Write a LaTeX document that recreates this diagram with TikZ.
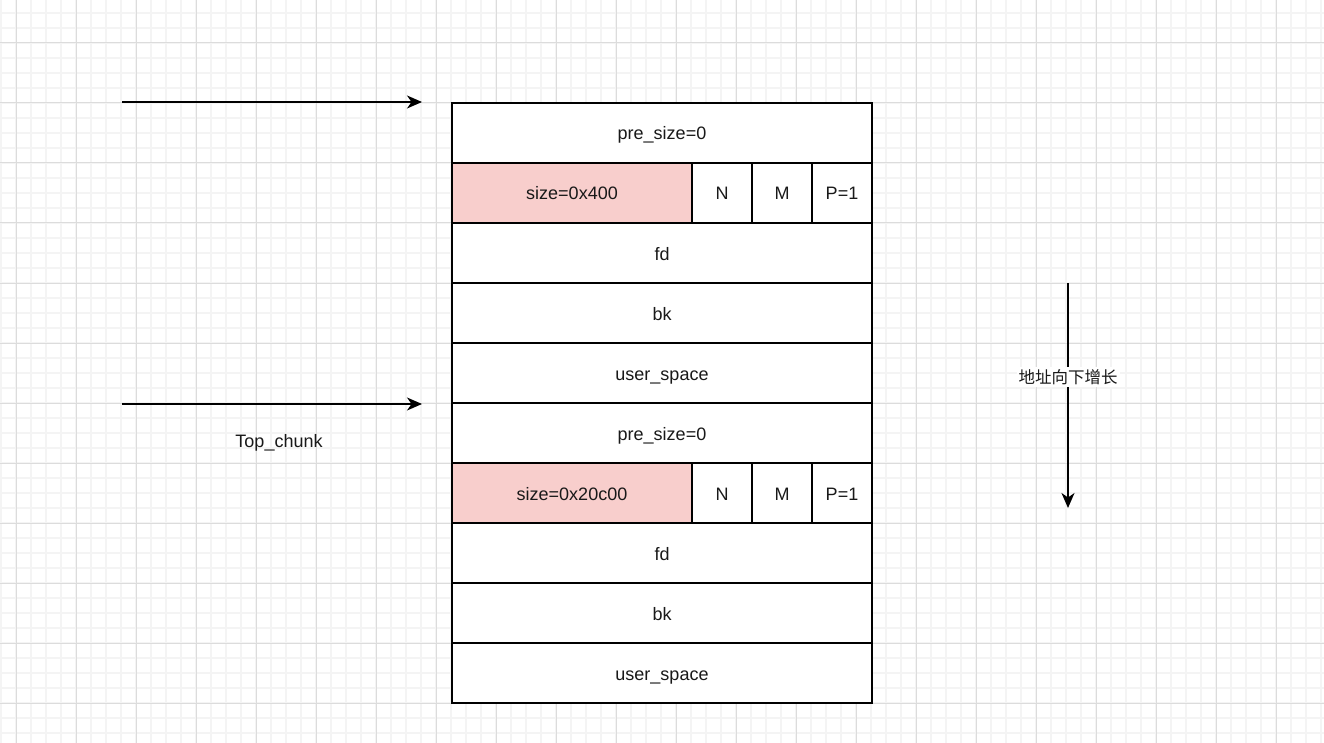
\documentclass[tikz,border=0pt]{standalone}
\usepackage{fontspec}
\setmainfont{Liberation Sans}
\newfontfamily\cjk{Noto Sans CJK SC}
\usetikzlibrary{arrows.meta}
\definecolor{pinkfill}{HTML}{F8CECC}
\definecolor{minorgrid}{HTML}{F4F4F4}
\definecolor{majorgrid}{HTML}{DCDCDC}
\tikzset{
  cell/.style={draw=black, line width=1.4pt, fill=white, minimum height=60pt, inner sep=0pt, font=\fontsize{18}{21}\selectfont, text=black!90, text height=14pt, text depth=0pt},
  wide/.style={cell, minimum width=420pt},
  sizecell/.style={cell, fill=pinkfill, minimum width=240pt},
  bitcell/.style={cell, minimum width=60pt},
  ptr/.style={line width=1.5pt, -{Stealth[length=15pt,width=13pt,inset=4.5pt]}},
  lbl/.style={font=\fontsize{18}{21}\selectfont, text=black!90, inner sep=1pt},
}
\begin{document}
\begin{tikzpicture}[x=1pt,y=-1pt]
\useasboundingbox (0,0) rectangle (1324,743);
\fill[white] (0,0) rectangle (1324,743);
% minor grid
\foreach \x in {1,16,...,1324} \draw[minorgrid, line width=1.2pt] (\x,0) -- (\x,743);
\foreach \y in {13,28,...,743} \draw[minorgrid, line width=1.2pt] (0,\y) -- (1324,\y);
% major grid
\foreach \x in {16,76,...,1324} \draw[majorgrid, line width=1pt] (\x,0) -- (\x,743);
\foreach \y in {43,103,...,743} \draw[majorgrid, line width=1pt] (0,\y) -- (1324,\y);
% chunk 1
\node[wide] (pre1) at (662,133) {pre\_size=0};
\node[sizecell] (size1) at (572,193) {size=0x400};
\node[bitcell] (n1) at (722,193) {N};
\node[bitcell] (m1) at (782,193) {M};
\node[bitcell] (p1) at (842,193) {P=1};
\node[wide] (fd1) at (662,253) {fd};
\node[wide] (bk1) at (662,313) {bk};
\node[wide] (us1) at (662,373) {user\_space};
% chunk 2
\node[wide] (pre2) at (662,433) {pre\_size=0};
\node[sizecell] (size2) at (572,493) {size=0x20c00};
\node[bitcell] (n2) at (722,493) {N};
\node[bitcell] (m2) at (782,493) {M};
\node[bitcell] (p2) at (842,493) {P=1};
\node[wide] (fd2) at (662,553) {fd};
\node[wide] (bk2) at (662,613) {bk};
\node[wide] (us2) at (662,673) {user\_space};
% pointers
\coordinate (a1s) at (122,102);
\coordinate (a1e) at (422,102);
\coordinate (a2s) at (122,404);
\coordinate (a2e) at (422,404);
\draw[ptr] (a1s) -- (a1e);
\draw[ptr] (a2s) -- (a2e);
\node[lbl, text height=14pt, text depth=0pt] (topchunk) at (279,440) {Top\_chunk};
% growth direction
\coordinate (g1) at (1068,283);
\coordinate (g2) at (1068,508);
\draw[ptr] (g1) -- (g2);
\node[lbl, fill=white, inner sep=2pt] (grow) at (1068,377) {\cjk\fontsize{16.5}{20}\selectfont 地址向下增长};
\end{tikzpicture}
\end{document}
